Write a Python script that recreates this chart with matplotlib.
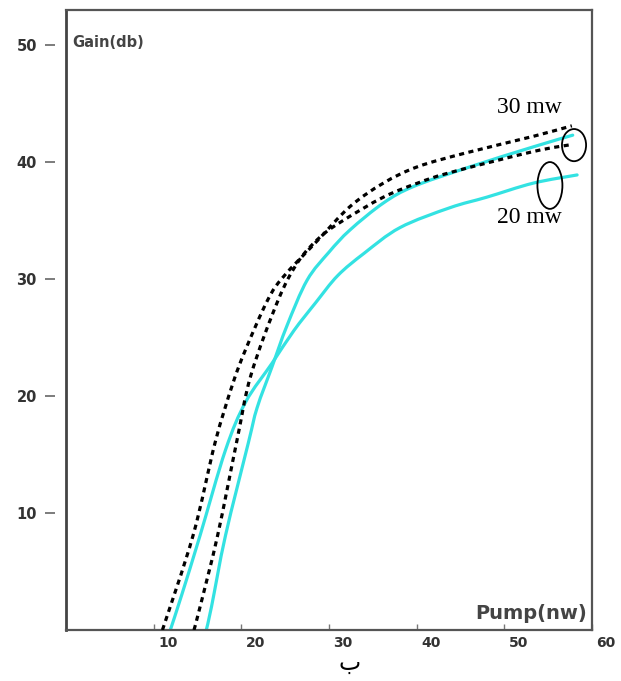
import matplotlib
matplotlib.use("Agg")
import numpy as np
import matplotlib.pyplot as plt
from matplotlib.patches import Ellipse, PathPatch
from matplotlib.path import Path
from matplotlib.transforms import ScaledTranslation

# ---- data ----
cyan_lo_x = [11.9, 13.2, 15.3, 18.2, 20.5, 23.5, 26.0, 28.5, 31.0, 34.0, 38.1, 43.8, 48.0, 53.3, 58.3]
cyan_lo_y = [0.0, 3.0, 8.1, 15.4, 19.5, 22.8, 25.6, 28.0, 30.3, 32.2, 34.4, 36.1, 37.0, 38.2, 38.9]

cyan_hi_x = [16.0, 16.6, 18.2, 20.8, 21.8, 23.5, 25.2, 27.5, 30.0, 32.4, 36.2, 39.6, 45.7, 53.3, 57.8]
cyan_hi_y = [0.0, 2.0, 8.1, 16.0, 19.0, 22.5, 26.0, 29.9, 32.3, 34.2, 36.5, 37.9, 39.5, 41.3, 42.3]

dash_hi_x = [11.0, 14.5, 17.0, 19.0, 20.5, 23.0, 24.8, 28.7, 32.4, 36.2, 40.1, 45.7, 53.3, 57.7]
dash_hi_y = [0.0, 8.1, 16.0, 21.0, 24.0, 28.2, 30.2, 33.3, 36.2, 38.2, 39.6, 40.8, 42.2, 43.1]

dash_lo_x = [14.6, 15.3, 17.3, 19.5, 21.1, 24.2, 26.5, 29.0, 31.6, 36.2, 40.1, 43.8, 53.3, 57.7]
dash_lo_y = [0.0, 2.0, 8.1, 16.2, 21.8, 28.2, 31.5, 33.6, 35.0, 37.0, 38.2, 39.1, 40.9, 41.5]

x_ticks = [10, 20, 30, 40, 50, 60]
y_ticks = [10, 20, 30, 40, 50]
label_30 = "30 mw"
label_20 = "20 mw"

CYAN = "#33E2E2"


def smooth_path(xs, ys):
    """Catmull-Rom through the read points, drawn as cubic Bezier segments."""
    p = np.column_stack([xs, ys]).astype(float)
    n = len(p)
    verts = [p[0]]
    codes = [Path.MOVETO]
    for i in range(n - 1):
        p0 = p[i - 1] if i > 0 else p[i]
        p1, p2 = p[i], p[i + 1]
        p3 = p[i + 2] if i + 2 < n else p[i + 1]
        c1 = p1 + (p2 - p0) / 6.0
        c2 = p2 - (p3 - p1) / 6.0
        verts += [c1, c2, p2]
        codes += [Path.CURVE4] * 3
    return Path(verts, codes)


fig = plt.figure(figsize=(6.21, 6.81), dpi=100)
ax = fig.add_axes([66/621, 1-630/681, (592-66)/621, (630-10)/681])
ax.set_xlim(0, 60)
ax.set_ylim(0, 53)

for xs, ys in [(cyan_lo_x, cyan_lo_y), (cyan_hi_x, cyan_hi_y)]:
    ax.add_patch(PathPatch(smooth_path(xs, ys), fill=False, edgecolor=CYAN,
                           lw=2.3, capstyle="round", zorder=2))
for xs, ys in [(dash_hi_x, dash_hi_y), (dash_lo_x, dash_lo_y)]:
    ax.add_patch(PathPatch(smooth_path(xs, ys), fill=False, edgecolor="black",
                           lw=2.3, linestyle=(0, (1.6, 1.4)), zorder=3))

for s in ax.spines.values():
    s.set_color("#555555")
    s.set_linewidth(1.6)
ax.spines["left"].set_color("#444444")
ax.spines["left"].set_linewidth(2.0)

ax.set_xticks(x_ticks)
ax.set_xticklabels([str(v) for v in x_ticks])
ax.set_yticks(y_ticks)
ax.set_yticklabels([str(v) for v in y_ticks])

ax.tick_params(axis="x", direction="in", length=4, width=1, color="#777777",
               labelsize=10, pad=4, labelcolor="#333333")
ax.tick_params(axis="y", direction="out", length=7, width=1.2, color="#666666",
               labelsize=10.5, pad=14, labelcolor="#333333")
for lab in ax.get_xticklabels() + ax.get_yticklabels():
    lab.set_fontweight("bold")

off_x = ScaledTranslation(14/100, 0, fig.dpi_scale_trans)
for lab in ax.get_xticklabels():
    lab.set_transform(lab.get_transform() + off_x)
off_y = ScaledTranslation(-11/100, 0, fig.dpi_scale_trans)
for t in ax.yaxis.get_major_ticks():
    t.tick1line.set_transform(t.tick1line.get_transform() + off_y)

ax.text(0.7, 50.2, "Gain(db)", fontsize=10.5, fontweight="bold", color="#444444",
        ha="left", va="center")
ax.text(59.4, 1.45, "Pump(nw)", fontsize=14, fontweight="bold", color="#444444",
        ha="right", va="center")

ax.text(52.9, 44.7, label_30, fontsize=17, family=["Liberation Serif", "DejaVu Serif"],
        ha="center", va="center")
ax.text(52.9, 35.3, label_20, fontsize=17, family=["Liberation Serif", "DejaVu Serif"],
        ha="center", va="center")

ax.add_patch(Ellipse((57.95, 41.45), 2.75, 2.75, fill=False, edgecolor="black", lw=1.3,
                     clip_on=False, zorder=4))
ax.add_patch(Ellipse((55.2, 38.0), 2.85, 4.0, fill=False, edgecolor="black", lw=1.3,
                     clip_on=False, zorder=4))

fig.text(350/621, 1-664/681, "ب", fontsize=17, family=["Liberation Serif", "DejaVu Sans"],
         ha="center", va="center")

fig.savefig("out.png", dpi=100)
